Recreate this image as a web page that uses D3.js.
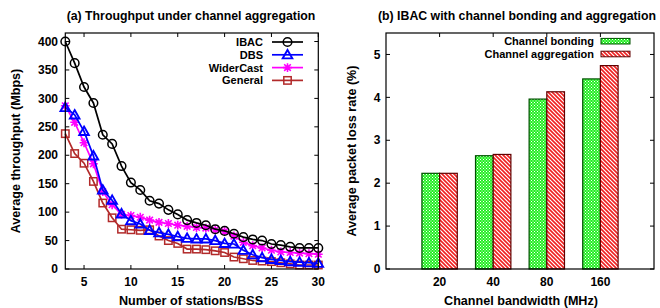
<!DOCTYPE html>
<html><head><meta charset="utf-8">
<script src="https://cdn.jsdelivr.net/npm/d3@7"></script>
<style>
html,body{margin:0;padding:0;background:#fff;}
text{font-family:"Liberation Sans",Arial,Helvetica,sans-serif;font-weight:bold;}
</style></head>
<body><svg id="c" width="660" height="308"></svg>
<script>
// ---- Data: panel (a)
const stations = [3,4,5,6,7,8,9,10,11,12,13,14,15,16,17,18,19,20,21,22,23,24,25,26,27,28,29,30];
const ibac      = [400,362,320,292,236,220,181,152,139,120,115,104,96,86,81,77,70,67,62,56,52,50,44,42,39,37,37,37];
const dbs       = [284,271,242,199,139,121,97,85,79,68,64,61,57,54,53,53,50,45,44,33,25,20,17,15,13,12,11,10];
const widercast = [287,258,222,185,136,113,96,94,91,86,82,80,77,75,73,72,69,66,58,47,41,37,33,30,29,28,27,26];
const general   = [238,203,186,154,116,90,70,69,68,69,58,50,45,35,35,34,32,29,21,18,15,14,13,11,9,7,7,7];
const seriesNames = ["IBAC","DBS","WiderCast","General"];
const xTicksA = [5,10,15,20,25,30];
const yTicksA = [0,50,100,150,200,250,300,350,400];

// ---- Data: panel (b)
const bandwidths = ["20","40","80","160"];
const bonding     = [2.23,2.64,3.96,4.43];
const aggregation = [2.23,2.67,4.13,4.74];
const barNames = ["Channel bonding","Channel aggregation"];
const yTicksB = [0,1,2,3,4,5];

const svg = d3.select("#c");
const defs = svg.append("defs");
const pg = defs.append("pattern").attr("id","pgreen").attr("patternUnits","userSpaceOnUse").attr("width",3).attr("height",3);
pg.append("rect").attr("width",3).attr("height",3).attr("fill","#22ee22");
pg.append("rect").attr("x",0).attr("y",0).attr("width",1).attr("height",1).attr("fill","#ffffff");
pg.append("rect").attr("x",1.5).attr("y",1.5).attr("width",1).attr("height",1).attr("fill","#ffffff");
const pr = defs.append("pattern").attr("id","pred").attr("patternUnits","userSpaceOnUse").attr("width",4).attr("height",4);
pr.append("rect").attr("width",4).attr("height",4).attr("fill","#ffffff");
pr.append("path").attr("d","M-1,-1 L5,5 M-1,3 L1,5 M3,-1 L5,1").attr("stroke","#f02020").attr("stroke-width",1.6);

// ================= Panel (a)
const xA = d3.scaleLinear().domain([3,30]).range([65.3,318.3]);
const yA = d3.scaleLinear().domain([0,415]).range([269,33]);
const gA = svg.append("g");
gA.append("text").attr("x",191).attr("y",19.5).attr("text-anchor","middle").attr("font-size",12.3).text("(a) Throughput under channel aggregation");

const tl = 4;
xTicksA.forEach(t=>{
  gA.append("line").attr("x1",xA(t)).attr("x2",xA(t)).attr("y1",269).attr("y2",269-tl).attr("stroke","#000");
  gA.append("line").attr("x1",xA(t)).attr("x2",xA(t)).attr("y1",33).attr("y2",33+tl).attr("stroke","#000");
  gA.append("text").attr("x",xA(t)).attr("y",286).attr("text-anchor","middle").attr("font-size",12).text(t);
});
yTicksA.forEach(t=>{
  gA.append("line").attr("x1",65.3).attr("x2",65.3+tl).attr("y1",yA(t)).attr("y2",yA(t)).attr("stroke","#000");
  gA.append("line").attr("x1",318.3).attr("x2",318.3-tl).attr("y1",yA(t)).attr("y2",yA(t)).attr("stroke","#000");
  gA.append("text").attr("x",58).attr("y",yA(t)+4.2).attr("text-anchor","end").attr("font-size",12).text(t);
});
gA.append("text").attr("x",191).attr("y",305).attr("text-anchor","middle").attr("font-size",12.6).text("Number of stations/BSS");
gA.append("text").attr("transform","translate(20,151) rotate(-90)").attr("text-anchor","middle").attr("font-size",12.6).text("Average throughput (Mbps)");

const seriesA = [
  {name:seriesNames[0], vals:ibac, color:"#000000", marker:"circle"},
  {name:seriesNames[1], vals:dbs, color:"#0000ff", marker:"tri"},
  {name:seriesNames[2], vals:widercast, color:"#ff00ff", marker:"star"},
  {name:seriesNames[3], vals:general, color:"#b22a2a", marker:"square"}
];
function drawMarker(g, type, x, y, color){
  if(type==="circle"){
    g.append("circle").attr("cx",x).attr("cy",y).attr("r",4.3).attr("fill","none").attr("stroke",color).attr("stroke-width",1.5);
  } else if(type==="tri"){
    const s=4.8;
    g.append("path").attr("d",`M${x},${y-s} L${x+s},${y+s*0.75} L${x-s},${y+s*0.75} Z`).attr("fill","none").attr("stroke",color).attr("stroke-width",1.9);
  } else if(type==="star"){
    const s=4.4;
    g.append("path").attr("d",`M${x-s},${y} L${x+s},${y} M${x},${y-s} L${x},${y+s} M${x-s*0.75},${y-s*0.75} L${x+s*0.75},${y+s*0.75} M${x-s*0.75},${y+s*0.75} L${x+s*0.75},${y-s*0.75}`).attr("stroke",color).attr("stroke-width",1.6);
  } else {
    const s=3.7;
    g.append("rect").attr("x",x-s).attr("y",y-s).attr("width",2*s).attr("height",2*s).attr("fill","none").attr("stroke",color).attr("stroke-width",1.5);
  }
}
const line = d3.line().x(d=>xA(d[0])).y(d=>yA(d[1]));
seriesA.slice().reverse().forEach(s=>{
  const pts = stations.map((x,i)=>[x,s.vals[i]]);
  gA.append("path").attr("d",line(pts)).attr("fill","none").attr("stroke",s.color).attr("stroke-width",1.7);
  pts.forEach(p=>drawMarker(gA,s.marker,xA(p[0]),yA(p[1]),s.color));
});
const legY = [42,54.8,67.6,80.4];
seriesA.forEach((s,i)=>{
  gA.append("text").attr("x",263).attr("y",legY[i]+4).attr("text-anchor","end").attr("font-size",11).text(s.name);
  gA.append("line").attr("x1",272).attr("x2",303).attr("y1",legY[i]).attr("y2",legY[i]).attr("stroke",s.color).attr("stroke-width",1.7);
  drawMarker(gA,s.marker,287.5,legY[i],s.color);
});
gA.append("rect").attr("x",65.3).attr("y",33).attr("width",318.3-65.3).attr("height",269-33).attr("fill","none").attr("stroke","#000").attr("stroke-width",1.2);

// ================= Panel (b)
const xB = d3.scaleLinear().domain([0,5]).range([386,654]);
const yB = d3.scaleLinear().domain([0,5.5]).range([269,33]);
const gB = svg.append("g");
gB.append("text").attr("x",517).attr("y",19.5).attr("text-anchor","middle").attr("font-size",12.3).text("(b) IBAC with channel bonding and aggregation");
yTicksB.forEach(t=>{
  gB.append("line").attr("x1",386).attr("x2",386+tl).attr("y1",yB(t)).attr("y2",yB(t)).attr("stroke","#000");
  gB.append("line").attr("x1",654).attr("x2",654-tl).attr("y1",yB(t)).attr("y2",yB(t)).attr("stroke","#000");
  gB.append("text").attr("x",377).attr("y",yB(t)+4.2).attr("text-anchor","middle").attr("font-size",12).text(t);
});
bandwidths.forEach((b,i)=>{
  const xc = xB(i+1);
  gB.append("line").attr("x1",xc).attr("x2",xc).attr("y1",269).attr("y2",269-tl).attr("stroke","#000");
  gB.append("line").attr("x1",xc).attr("x2",xc).attr("y1",33).attr("y2",33+tl).attr("stroke","#000");
  gB.append("text").attr("x",xc).attr("y",286).attr("text-anchor","middle").attr("font-size",12).text(b);
});
gB.append("text").attr("x",521).attr("y",305).attr("text-anchor","middle").attr("font-size",12.6).text("Channel bandwidth (MHz)");
gB.append("text").attr("transform","translate(356,151) rotate(-90)").attr("text-anchor","middle").attr("font-size",12.6).text("Average packet loss rate (%)");

const bw = 0.33;
bandwidths.forEach((b,i)=>{
  const c = i+1;
  gB.append("rect").attr("x",xB(c-bw)).attr("y",yB(bonding[i])).attr("width",xB(c)-xB(c-bw)).attr("height",yB(0)-yB(bonding[i]))
    .attr("fill","url(#pgreen)").attr("stroke","#005000").attr("stroke-width",1.2);
  gB.append("rect").attr("x",xB(c)).attr("y",yB(aggregation[i])).attr("width",xB(c+bw)-xB(c)).attr("height",yB(0)-yB(aggregation[i]))
    .attr("fill","url(#pred)").attr("stroke","#600000").attr("stroke-width",1.2);
});
const legB = [{name:barNames[0],fill:"url(#pgreen)",stroke:"#005000",y:41.2},{name:barNames[1],fill:"url(#pred)",stroke:"#600000",y:54}];
legB.forEach(l=>{
  gB.append("text").attr("x",594).attr("y",l.y+4).attr("text-anchor","end").attr("font-size",11).text(l.name);
  gB.append("rect").attr("x",601).attr("y",l.y-2.8).attr("width",29).attr("height",5.6).attr("fill",l.fill).attr("stroke",l.stroke).attr("stroke-width",1);
});
gB.append("rect").attr("x",386).attr("y",33).attr("width",654-386).attr("height",269-33).attr("fill","none").attr("stroke","#000").attr("stroke-width",1.2);
</script></body></html>
